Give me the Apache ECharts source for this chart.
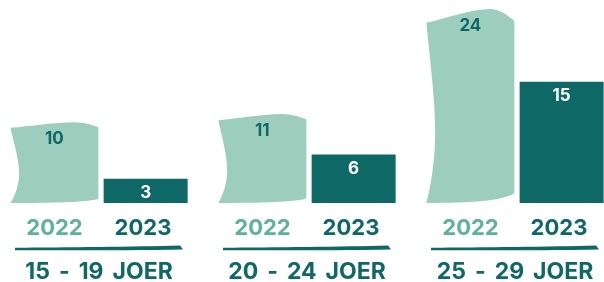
<!DOCTYPE html>
<html>
<head>
<meta charset="utf-8">
<script src="https://cdn.jsdelivr.net/npm/echarts@6/dist/echarts.min.js"></script>
<style>
  html, body { margin: 0; padding: 0; background: #fff; }
  #chart { width: 604px; height: 282px; }
</style>
</head>
<body>
<div id="chart"></div>
<script>
const categories = ['15 - 19 JOER', '20 - 24 JOER', '25 - 29 JOER']
const years = ['2022', '2023']
const values2022 = [10, 11, 24]
const values2023 = [3, 6, 15]

const colors = {
  light: '#9dcebd',
  dark: '#0e6866',
  year2022: '#5bb595'
}
const font = 'Inter, Roboto, sans-serif'

// gewellte "Fändel"-Form fir 2022
const flagPath = 'path://M0,7 C22,5 52,0 72,0 C84,0 94,4 100,6 L100,95 C86,99 50,100 0,100 C6,90 10,76 10,64 C10,46 4,26 0,7 Z'

// Pinselstrich ënner de Joren
const strokeSvg = 'data:image/svg+xml;charset=utf-8,' + encodeURIComponent(
  '<svg xmlns="http://www.w3.org/2000/svg" width="168" height="8" viewBox="0 0 168 8">' +
  '<path d="M0,3.8 C50,3 120,2.8 165,1.4 L168,5.4 C120,6.4 50,6.4 0,6.2 Z" fill="' + colors.dark + '"/></svg>'
)

const chart = echarts.init(document.getElementById('chart'))

const option = {
  animation: false,
  grid: { left: -5, width: 624, top: 1, bottom: 79, outerBoundsMode: 'none', containLabel: false },
  xAxis: {
    type: 'category',
    data: categories,
    axisLine: { show: false },
    axisTick: { show: false },
    axisLabel: {
      interval: 0,
      margin: 12,
      formatter: v => `{a|${years[0]}}{b|${years[1]}}\n{u|}\n` + v.split(' ').map(w => `{c|${w}}`).join('{s| }'),
      rich: {
        a: { width: 88, align: 'center', color: colors.year2022, fontSize: 22, fontWeight: 'bold', fontFamily: font, lineHeight: 26 },
        b: { width: 89, align: 'center', color: colors.dark, fontSize: 22, fontWeight: 'bold', fontFamily: font, lineHeight: 26 },
        u: { width: 168, height: 8, lineHeight: 14, backgroundColor: { image: strokeSvg } },
        c: { color: colors.dark, fontSize: 23, fontWeight: 'bold', fontFamily: font, lineHeight: 34 },
        s: { width: 9, fontSize: 23, fontFamily: font, lineHeight: 34 }
      }
    }
  },
  yAxis: { type: 'value', min: 0, max: 25, show: false },
  series: [
    {
      name: years[0],
      type: 'pictorialBar',
      symbol: flagPath,
      symbolSize: ['100%', '100%'],
      barWidth: 88,
      barGap: '6%',
      itemStyle: { color: colors.light },
      label: {
        show: true,
        position: 'insideTop',
        distance: 8,
        color: colors.dark,
        fontSize: 17,
        fontWeight: 'bold',
        fontFamily: font
      },
      data: values2022
    },
    {
      name: years[1],
      type: 'pictorialBar',
      symbol: 'rect',
      symbolSize: ['100%', '100%'],
      barWidth: 84,
      barGap: '6%',
      itemStyle: { color: colors.dark },
      label: {
        show: true,
        position: 'insideTop',
        distance: 6,
        color: '#fff',
        fontSize: 17,
        fontWeight: 'bold',
        fontFamily: font
      },
      data: values2023
    }
  ]
}

chart.setOption(option)
</script>
</body>
</html>
